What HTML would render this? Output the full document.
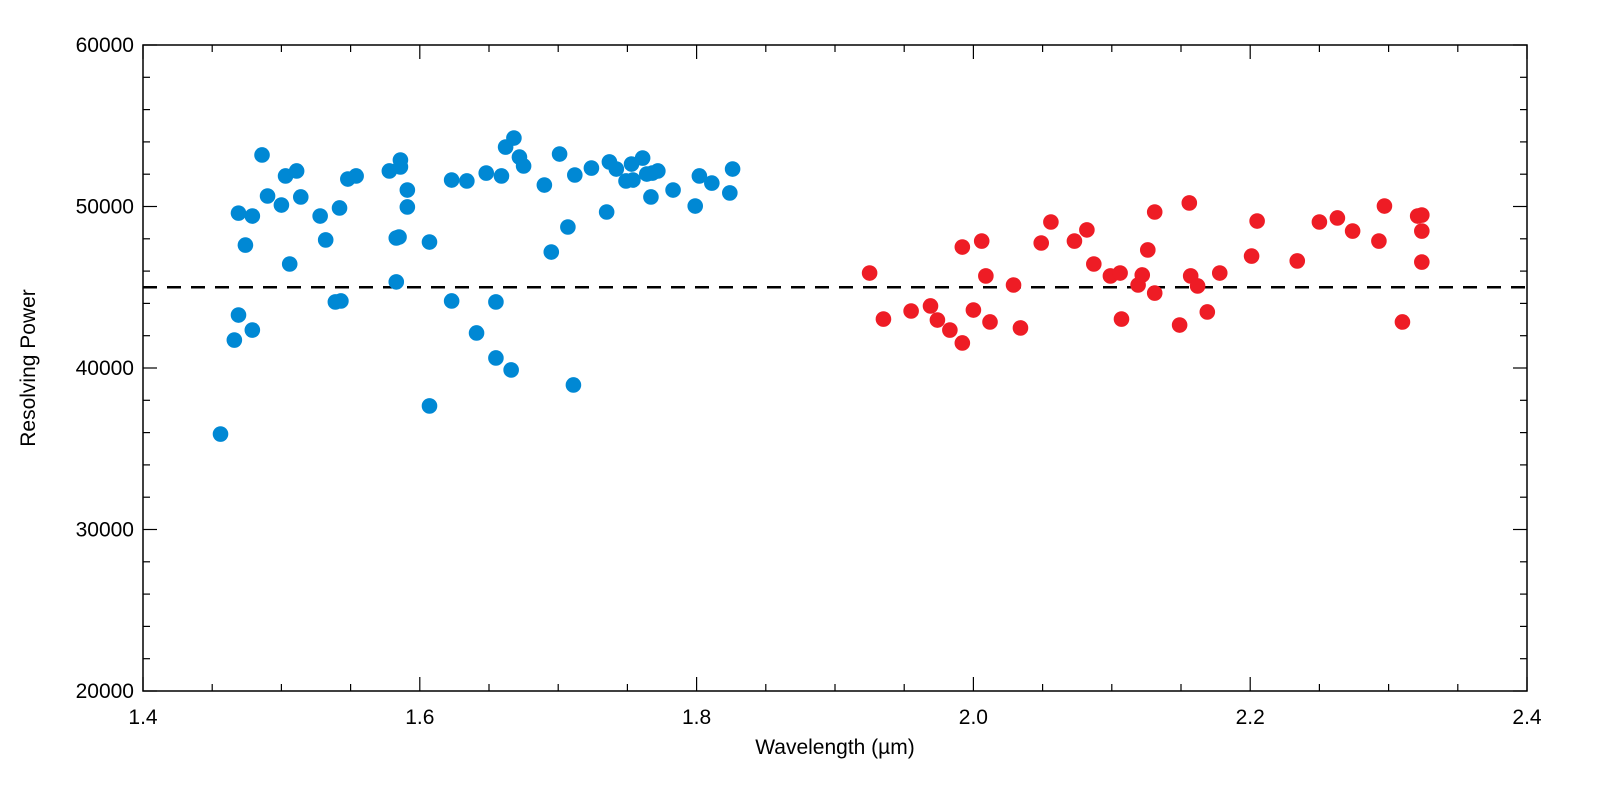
<!DOCTYPE html>
<html><head><meta charset="utf-8"><style>
html,body{margin:0;padding:0;background:#fff;}
svg{display:block;font-family:"Liberation Sans",sans-serif;}
</style></head><body>
<svg id="chart" width="1600" height="798" xmlns="http://www.w3.org/2000/svg"></svg>
<script>
const hWave=[1.456,1.466,1.469,1.469,1.474,1.479,1.479,1.486,1.490,1.500,1.503,1.506,1.511,1.514,1.528,1.532,1.539,1.543,1.542,1.548,1.554,1.578,1.583,1.583,1.585,1.586,1.586,1.591,1.591,1.607,1.607,1.623,1.623,1.634,1.641,1.648,1.655,1.655,1.659,1.662,1.668,1.666,1.672,1.675,1.690,1.695,1.701,1.707,1.711,1.712,1.724,1.735,1.737,1.742,1.749,1.753,1.754,1.761,1.764,1.767,1.768,1.772,1.783,1.799,1.802,1.811,1.824,1.826];
const hR=[35910,41730,43280,49590,47610,42350,49410,53190,50650,50090,51890,46440,52200,50590,49410,47930,44090,44150,49910,51700,51890,52200,45330,48050,48110,52880,52450,51020,49970,37650,47800,51640,44150,51580,42170,52070,40620,44090,51890,53680,54240,39880,53060,52510,51330,47180,53250,48730,38950,51950,52380,49660,52760,52320,51580,52630,51640,53000,52010,50590,52070,52200,51020,50030,51890,51450,50840,52320];
const kWave=[1.925,1.935,1.955,1.969,1.974,1.983,1.992,1.992,2.000,2.006,2.009,2.012,2.029,2.034,2.049,2.056,2.073,2.082,2.087,2.099,2.106,2.107,2.119,2.122,2.126,2.131,2.131,2.149,2.156,2.157,2.162,2.169,2.178,2.201,2.205,2.234,2.250,2.263,2.274,2.293,2.297,2.310,2.321,2.324,2.324,2.324];
const kR=[45880,43030,43530,43840,42970,42350,41550,47490,43590,47860,45700,42850,45140,42480,47740,49040,47860,48550,46440,45700,45880,43030,45140,45760,47310,44640,49660,42660,50220,45700,45080,43470,45880,46930,49100,46630,49040,49290,48480,47860,50030,42850,49410,49470,48480,46560];
const xTicks=["1.4","1.6","1.8","2.0","2.2","2.4"];
const yTicks=["20000","30000","40000","50000","60000"];
const threshold=[45000];

const L=143,R=1527,T=45,B=691,X0=1.4,X1=2.4,Y0=20000,Y1=60000;
const sx=v=>L+(v-X0)/(X1-X0)*(R-L);
const sy=v=>B-(v-Y0)/(Y1-Y0)*(B-T);
const svg=document.getElementById('chart');
const NS='http://www.w3.org/2000/svg';
function mk(tag,attrs,parent){const e=document.createElementNS(NS,tag);for(const k in attrs)e.setAttribute(k,attrs[k]);(parent||svg).appendChild(e);return e;}

const frame=mk('rect',{x:L,y:T,width:R-L,height:B-T,fill:'none',stroke:'#000','stroke-width':1.5});



// x ticks
for(let i=0;i<=20;i++){const v=X0+i*0.05;const x=sx(v);const len=(i%4===0)?14:7;
 const t1=mk('line',{x1:x,x2:x,y1:B,y2:B-len,stroke:'#000','stroke-width':1.2});
 
 
 const t2=mk('line',{x1:x,x2:x,y1:T,y2:T+len,stroke:'#000','stroke-width':1.2});
 
 }
xTicks.forEach(s=>{const t=mk('text',{x:sx(parseFloat(s)),y:724,'text-anchor':'middle','font-size':21,fill:'#000'});t.textContent=s;
 
 });
// y ticks
for(let i=0;i<=20;i++){const v=Y0+i*2000;const y=sy(v);const len=(i%5===0)?14:7;
 const t1=mk('line',{x1:L,x2:L+len,y1:y,y2:y,stroke:'#000','stroke-width':1.2});
 
 
 const t2=mk('line',{x1:R,x2:R-len,y1:y,y2:y,stroke:'#000','stroke-width':1.2});
 
 }
yTicks.forEach(s=>{const t=mk('text',{x:134,y:sy(parseFloat(s))+7,'text-anchor':'end','font-size':21,fill:'#000'});t.textContent=s;
 
 });

const xt=mk('text',{x:835,y:754,'text-anchor':'middle','font-size':21,fill:'#000'});xt.textContent='Wavelength (\u00b5m)';


const yt=mk('text',{x:0,y:0,'text-anchor':'middle','font-size':21,fill:'#000',transform:'translate(35,368) rotate(-90)'});yt.textContent='Resolving Power';



const th=mk('line',{x1:L,x2:R,y1:sy(threshold[0]),y2:sy(threshold[0]),stroke:'#000','stroke-width':2.5,'stroke-dasharray':'14,10'});



hWave.forEach((w,i)=>{const c=mk('circle',{cx:sx(w),cy:sy(hR[i]),r:7.8,fill:'#0088d4'});
 
 });
kWave.forEach((w,i)=>{const c=mk('circle',{cx:sx(w),cy:sy(kR[i]),r:7.8,fill:'#ee1c25'});
 
 });
</script>
</body></html>
